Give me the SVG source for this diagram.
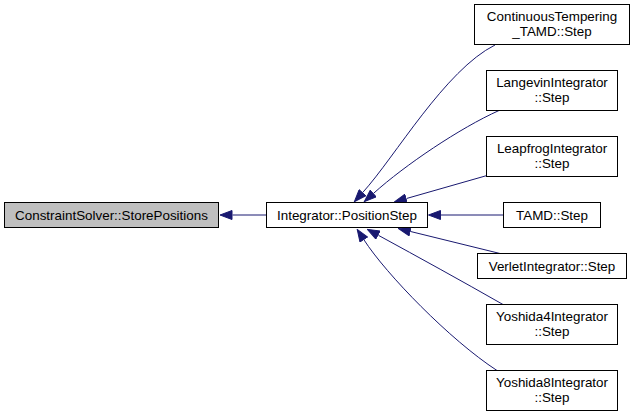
<svg xmlns="http://www.w3.org/2000/svg" width="635" height="416" viewBox="0 0 635 416">
<style>
.node rect{fill:#ffffff;stroke:#000000;stroke-width:1}
.node.cur rect{fill:#bfbfbf}
text{font-family:"Liberation Sans",Arial,Helvetica,sans-serif;font-size:13.4px;fill:#000000;text-anchor:middle}
.edge{fill:none;stroke:#191970;stroke-width:1;marker-end:url(#ah)}
</style>
<defs>
<marker id="ah" markerUnits="userSpaceOnUse" viewBox="0 0 13 10" markerWidth="13" markerHeight="10" refX="0" refY="5" orient="auto">
<path d="M0.5,0.5 L12.5,5 L0.5,9.5 Z" fill="#191970" stroke="#191970" stroke-width="1"/>
</marker>
</defs>
<rect width="635" height="416" fill="#ffffff"/>
<g id="edges">
<path class="edge" d="M266,215 L232.5,215"/>
<path class="edge" d="M495,45 C445,70 395,157 362.8,192.4"/>
<path class="edge" d="M499,110.5 C460,128 405,165 373.6,193.3"/>
<path class="edge" d="M487,175.5 L406.5,198.5"/>
<path class="edge" d="M503.5,215 L441,215"/>
<path class="edge" d="M500,253.5 L410.6,231.5"/>
<path class="edge" d="M503,304.5 C460,280 420,258 378.4,235.3"/>
<path class="edge" d="M497,370.5 C450,340 386,274 364,239.9"/>
</g>
<g id="node_constraintsolver" class="node cur">
<rect x="4.5" y="202.5" width="214" height="25"/>
<text x="111.5" y="219.5">ConstraintSolver::StorePositions</text>
</g>
<g id="node_positionstep" class="node">
<rect x="266.5" y="202.5" width="161" height="25"/>
<text x="347" y="219.5">Integrator::PositionStep</text>
</g>
<g id="node_ct" class="node">
<rect x="474.5" y="4.5" width="155" height="40"/>
<text x="552" y="20.5">ContinuousTempering</text>
<text x="552" y="35.5">_TAMD::Step</text>
</g>
<g id="node_langevin" class="node">
<rect x="486.5" y="70.5" width="131" height="40"/>
<text x="552" y="86.5">LangevinIntegrator</text>
<text x="552" y="101.5">::Step</text>
</g>
<g id="node_leapfrog" class="node">
<rect x="486.5" y="136.5" width="131" height="40"/>
<text x="552" y="152.5">LeapfrogIntegrator</text>
<text x="552" y="167.5">::Step</text>
</g>
<g id="node_tamd" class="node">
<rect x="503.5" y="202.5" width="97" height="25"/>
<text x="552" y="219.5">TAMD::Step</text>
</g>
<g id="node_verlet" class="node">
<rect x="477.5" y="253.5" width="149" height="25"/>
<text x="552" y="270.5">VerletIntegrator::Step</text>
</g>
<g id="node_yoshida4" class="node">
<rect x="486.5" y="304.5" width="131" height="40"/>
<text x="552" y="320.5">Yoshida4Integrator</text>
<text x="552" y="335.5">::Step</text>
</g>
<g id="node_yoshida8" class="node">
<rect x="486.5" y="370.5" width="131" height="40"/>
<text x="552" y="386.5">Yoshida8Integrator</text>
<text x="552" y="401.5">::Step</text>
</g>
</svg>
